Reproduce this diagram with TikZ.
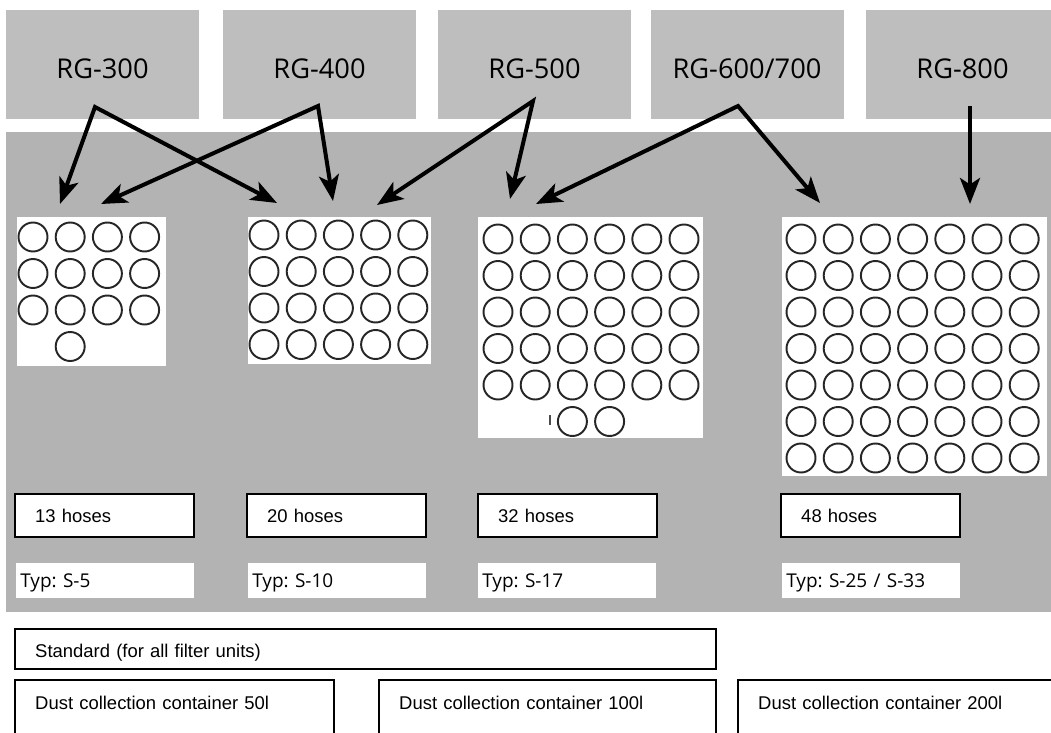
\documentclass[tikz,border=0pt]{standalone}
\usepackage{fontspec}
\setmainfont{Liberation Sans}
\newfontfamily\rgfont{Open Sans}
\usetikzlibrary{arrows.meta}
\frenchspacing

\definecolor{topgray}{RGB}{190,190,190}
\definecolor{panelgray}{RGB}{179,179,179}

\tikzset{
  feedtip/.tip={Stealth[length=5.2mm, width=4mm, inset=1.3mm]},
  topbox/.style={rectangle, fill=topgray, minimum width=38.6mm, minimum height=21.9mm,
    inner sep=0pt, text height=5.6mm, text depth=0pt, font=\rgfont\fontsize{15.5}{18}\selectfont},
  gridbox/.style={rectangle, fill=white, anchor=north west, inner sep=0pt},
  hosebox/.style={rectangle, draw, line width=1.4pt, fill=white, anchor=north west,
    inner xsep=4mm, inner ysep=0pt, minimum height=8.6mm, text width=27.8mm, align=left,
    font=\fontsize{10.5}{12}\selectfont},
  typbox/.style={rectangle, fill=white, anchor=north west, inner xsep=0.8mm, inner ysep=0pt,
    minimum height=7mm, text width=34mm, align=left, text height=2.6mm, text depth=0pt,
    font=\rgfont\fontsize{10.8}{12}\selectfont},
  listbox/.style={rectangle, draw, line width=1.4pt, fill=white, anchor=north west,
    inner xsep=4mm, inner ysep=0pt, align=left, font=\fontsize{10.5}{12}\selectfont},
  hose/.style={draw=black!85, line width=1.1pt},
  feed/.style={feedtip-feedtip, line width=0.8mm, line join=miter}
}

\begin{document}
\begin{tikzpicture}[x=0.2mm, y=-0.2mm]
    \useasboundingbox[fill=white] (0,0) rectangle (1051,733);
    \clip (0,0) rectangle (1051,733);
    \fill[panelgray] (6,132) rectangle (1051,612);

    \node[topbox] (rg300) at (102.5,64.3) {RG-300};
    \node[topbox] (rg400) at (319.5,64.3) {RG-400};
    \node[topbox] (rg500) at (534.5,64.3) {RG-500};
    \node[topbox] (rg600) at (747,64.3) {RG-600/700};
    \node[topbox] (rg800) at (962.5,64.3) {RG-800};

    \node[gridbox, minimum width=29.8mm, minimum height=29.8mm] (g13) at (17,217) {};
    \node[gridbox, minimum width=36.6mm, minimum height=29.4mm] (g20) at (248,217) {};
    \node[gridbox, minimum width=45mm, minimum height=44.2mm] (g32) at (478,217) {};
    \node[gridbox, minimum width=53mm, minimum height=51.8mm] (g48) at (782,217) {};

    \foreach \i in {0,...,3} \foreach \j in {0,...,2}
        \draw[hose] (33+37.2*\i, 237+36.5*\j) circle [radius=14.5];
    \draw[hose] (70.2,346.5) circle [radius=14.5];

    \foreach \i in {0,...,4} \foreach \j in {0,...,3}
        \draw[hose] (264+37.2*\i, 235+36.5*\j) circle [radius=14.5];

    \foreach \i in {0,...,5} \foreach \j in {0,...,4}
        \draw[hose] (498+37.2*\i, 239+36.5*\j) circle [radius=14.5];
    \draw[hose] (572.4,421.5) circle [radius=14.5];
    \draw[hose] (609.6,421.5) circle [radius=14.5];
    \draw[black!70, line width=0.6pt] (550,415) -- (550,425);

    \foreach \i in {0,...,6} \foreach \j in {0,...,6}
        \draw[hose] (801+37.2*\i, 239+36.5*\j) circle [radius=14.5];

    \coordinate (out300) at (95,107);
    \coordinate (out400) at (318,106);
    \coordinate (out500) at (533,101);
    \coordinate (out600) at (738,106);
    \coordinate (out800) at (970,106);
    \coordinate (in13a) at (60,204);
    \coordinate (in13b) at (101,204);
    \coordinate (in20a) at (277,203);
    \coordinate (in20b) at (333,201);
    \coordinate (in20c) at (377,205);
    \coordinate (in32a) at (510,199);
    \coordinate (in32b) at (536,204);
    \coordinate (in48a) at (820,203);
    \coordinate (in48b) at (970,204);

    \draw[feed] (in13a) -- (out300) -- (in20a);
    \draw[feed] (in13b) -- (out400) -- (in20b);
    \draw[feed] (in20c) -- (out500) -- (in32a);
    \draw[feed] (in32b) -- (out600) -- (in48a);
    \draw[feed, -feedtip] (out800) -- (in48b);

    \node[hosebox] (n13) at (14,493) {13 hoses};
    \node[hosebox] (n20) at (246,493) {20 hoses};
    \node[hosebox] (n32) at (477,493) {32 hoses};
    \node[hosebox] (n48) at (780,493) {48 hoses};

    \node[typbox] (s5) at (16,563) {Typ: S-5};
    \node[typbox] (s10) at (248,563) {Typ: S-10};
    \node[typbox] (s17) at (478,563) {Typ: S-17};
    \node[typbox] (s25) at (782,563) {Typ: S-25 / S-33};

    \node[listbox, minimum height=8mm, text width=132.2mm, text height=3.2mm, text depth=0pt]
        (std) at (14,628) {Standard (for all filter units)};
    \node[listbox, text width=55.8mm, text height=5.8mm, text depth=7mm]
        (d50) at (14,679) {Dust collection container 50l};
    \node[listbox, text width=59.4mm, text height=5.8mm, text depth=7mm]
        (d100) at (378,679) {Dust collection container 100l};
    \node[listbox, text width=60mm, text height=5.8mm, text depth=7mm]
        (d200) at (737,679) {Dust collection container 200l};
\end{tikzpicture}
\end{document}
